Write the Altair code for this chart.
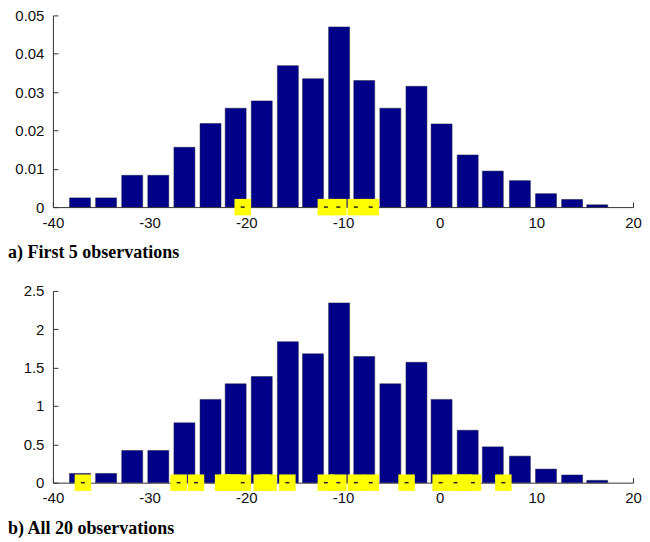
import altair as alt
import pandas as pd

# bin centres
centers = [-37.2, -34.5, -31.8, -29.1, -26.4, -23.7, -21.1, -18.4, -15.7, -13.1,
           -10.4, -7.8, -5.1, -2.4, 0.2, 2.9, 5.5, 8.3, 11.0, 13.7, 16.3]
# panel a) bar heights
heights_a = [0.0024, 0.0024, 0.0083, 0.0083, 0.0156, 0.0218, 0.0258, 0.0277, 0.0369, 0.0335,
             0.0470, 0.0330, 0.0258, 0.0315, 0.0217, 0.0136, 0.0094, 0.0069, 0.0035, 0.0020, 0.0006]
# panel b) bar heights
heights_b = [0.12, 0.12, 0.42, 0.42, 0.78, 1.086, 1.289, 1.384, 1.838, 1.68,
             2.344, 1.644, 1.289, 1.57, 1.086, 0.683, 0.467, 0.346, 0.177, 0.10, 0.03]
# observations (yellow squares)
obs_a = [-20.37, -11.77, -10.48, -8.67, -7.13]
obs_b = [-20.37, -11.77, -10.48, -8.67, -7.13, -36.9, -27.0, -25.2, -22.4, -21.9,
         -21.4, -18.4, -17.7, -15.75, -3.42, 0.1, 1.64, 2.5, 3.44, 6.59]
# observation markers whose centre dash is visible
dots_a = [-20.37, -11.77, -10.48, -8.67, -7.13]
dots_b = [-36.9, -27.0, -25.2, -20.37, -15.75, -11.77, -10.48, -8.67, -7.13,
          -3.42, 0.1, 1.64, 3.44, 6.59]

x_ticks = [-40, -30, -20, -10, 0, 10, 20]
y_ticks_a = [0, 0.01, 0.02, 0.03, 0.04, 0.05]
y_ticks_b = [0, 0.5, 1, 1.5, 2, 2.5]

captions = ["a) First 5 observations", "b) All 20 observations"]

W, H = 581, 192
NAVY = "#000088"


def panel(heights, obs, dots, yticks, caption):
    bars_df = pd.DataFrame({"c": centers, "h": heights})
    obs_df = pd.DataFrame({"v": obs})
    dots_df = pd.DataFrame({"v": dots})
    xs = alt.Scale(domain=[-40, 20], nice=False, zero=False, padding=0)
    ys = alt.Scale(domain=[yticks[0], yticks[-1]], nice=False, padding=0)

    bars = alt.Chart(bars_df).mark_bar(size=21, color=NAVY, stroke="#1a1a40", strokeWidth=0.5).encode(
        x=alt.X("c:Q", scale=xs,
                axis=alt.Axis(values=x_ticks, labelExpr="datum.value + ''", ticks=False,
                              grid=False, title=None, labelPadding=8, labelFlush=False)),
        y=alt.Y("h:Q", scale=ys,
                axis=alt.Axis(values=yticks, labelExpr="datum.value + ''", ticks=False,
                              grid=False, title=None, labelPadding=9, labelFlush=False,
                              minExtent=45, maxExtent=45)),
    )
    squares = alt.Chart(obs_df).transform_calculate(zero="0").mark_point(
        shape="square", filled=True, size=272, color="#ffff00", opacity=1, strokeWidth=0
    ).encode(
        x=alt.X("v:Q", scale=xs,
                axis=alt.Axis(orient="top", offset=-H, values=x_ticks, labels=False,
                              domain=False, tickSize=5, grid=False, title=None)),
        y=alt.Y("zero:Q", scale=ys,
                axis=alt.Axis(orient="right", offset=-W, values=yticks, labels=False,
                              domain=False, tickSize=5, grid=False, title=None)),
    )
    dashes = alt.Chart(dots_df).transform_calculate(zero="0").mark_point(
        shape="stroke", size=16, color="#222222", strokeWidth=1.5, opacity=1
    ).encode(
        x=alt.X("v:Q", scale=xs, axis=None),
        y=alt.Y("zero:Q", scale=ys, axis=None),
    )
    return alt.layer(bars, squares, dashes).resolve_axis(x="independent", y="independent").properties(
        width=W, height=H,
        title=alt.TitleParams(caption, orient="bottom", anchor="start", frame="bounds",
                              font="Liberation Serif", fontSize=18, fontWeight="bold",
                              color="#000000", offset=14),
    )


top = panel(heights_a, obs_a, dots_a, y_ticks_a, captions[0])
bottom = panel(heights_b, obs_b, dots_b, y_ticks_b, captions[1])

chart = alt.vconcat(top, bottom, spacing=22).properties(
    padding={"left": 0, "top": 0, "right": 0, "bottom": 0},
    background="white",
).configure_view(stroke=None).configure_axis(
    labelFont="Liberation Sans", labelFontSize=15, labelColor="#111111",
    domainColor="#333333", tickColor="#333333", domainWidth=1, tickWidth=1,
)

chart.save("out.html", embed_options={"renderer": "svg", "actions": False})
